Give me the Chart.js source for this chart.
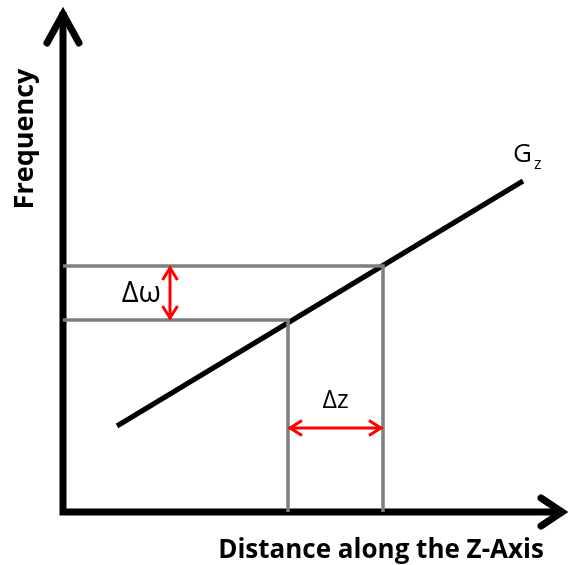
<!DOCTYPE html>
<html>
<head>
<meta charset="utf-8">
<script src="https://cdn.jsdelivr.net/npm/chart.js@4/dist/chart.umd.min.js"></script>
<style>
  html, body { margin: 0; padding: 0; background: #ffffff; }
  #wrap { width: 568px; height: 565px; }
</style>
</head>
<body>
<div id="wrap"><canvas id="c" width="568" height="565"></canvas></div>
<script>
// Gradient line G_z: frequency rises linearly with position along z
const gzX = [1.08, 9.2];
const gzY = [1.72, 6.62];
// Two frequency levels (lower, upper) and the matching z positions
const freqLevels = [3.84, 4.92];
const zPositions = [4.5, 6.4];
// Axis extent in data units
const axisRange = [0, 10];
// Where the difference markers sit
const deltaOmegaX = 2.14;
const deltaZY = 1.68;
// Text
const xTitle = 'Distance along the Z-Axis';
const yTitle = 'Frequency';
const gradientLabel = ['G', 'z'];
const deltaOmegaLabel = 'Δω';
const deltaZLabel = 'Δz';

const GRAY = '#7f7f7f';
const RED = '#ff0000';
const BLACK = '#000000';
const FONT = '"Open Sans", Lato, sans-serif';

function pts(xs, ys) { return xs.map((x, i) => ({ x: x, y: ys[i] })); }

function lineSet(data, color, width) {
  return {
    data: data, showLine: true, pointRadius: 0, borderColor: color,
    borderWidth: width, clip: false, fill: false, tension: 0,
    borderJoinStyle: 'miter', borderCapStyle: 'butt'
  };
}

const datasets = [
  // upper level: horizontal to the line, then down to the z axis
  lineSet(pts([axisRange[0], zPositions[1], zPositions[1]], [freqLevels[1], freqLevels[1], axisRange[0]]), GRAY, 3.5),
  // lower level
  lineSet(pts([axisRange[0], zPositions[0], zPositions[0]], [freqLevels[0], freqLevels[0], axisRange[0]]), GRAY, 3.5),
  // axes
  lineSet(pts([axisRange[0], axisRange[0], axisRange[1]], [axisRange[1], axisRange[0], axisRange[0]]), BLACK, 7),
  // G_z
  lineSet(pts(gzX, gzY), BLACK, 5),
  // Δω shaft
  lineSet(pts([deltaOmegaX, deltaOmegaX], [freqLevels[0], freqLevels[1]]), RED, 3),
  // Δz shaft
  lineSet(pts([zPositions[0], zPositions[1]], [deltaZY, deltaZY]), RED, 3)
];

function chevron(ctx, tipX, tipY, ax, ay, bx, by, color, width, cap) {
  ctx.save();
  ctx.strokeStyle = color;
  ctx.lineWidth = width;
  ctx.lineCap = cap;
  ctx.lineJoin = 'miter';
  ctx.beginPath();
  ctx.moveTo(tipX + ax, tipY + ay);
  ctx.lineTo(tipX, tipY);
  ctx.lineTo(tipX + bx, tipY + by);
  ctx.stroke();
  ctx.restore();
}

const decorations = {
  id: 'decorations',
  afterDatasetsDraw(chart) {
    const ctx = chart.ctx;
    const xs = chart.scales.x, ys = chart.scales.y;
    const px = v => xs.getPixelForValue(v);
    const py = v => ys.getPixelForValue(v);

    // axis arrowheads
    chevron(ctx, px(axisRange[0]), py(axisRange[1]) + 2, -16, 29, 16, 29, BLACK, 7, 'round');
    chevron(ctx, px(axisRange[1]) - 1, py(axisRange[0]), -21, -14, -21, 14, BLACK, 7, 'round');

    // Δω arrowheads
    const oX = px(deltaOmegaX);
    const oTop = py(freqLevels[1]) + 2, oBot = py(freqLevels[0]) - 2;
    chevron(ctx, oX, oTop, -7.5, 12, 7.5, 12, RED, 3, 'butt');
    chevron(ctx, oX, oBot, -7.5, -12, 7.5, -12, RED, 3, 'butt');

    // Δz arrowheads
    const zY = py(deltaZY);
    const zL = px(zPositions[0]) + 2, zR = px(zPositions[1]) - 2;
    chevron(ctx, zL, zY, 12, -7.5, 12, 7.5, RED, 3, 'butt');
    chevron(ctx, zR, zY, -12, -7.5, -12, 7.5, RED, 3, 'butt');

    ctx.save();
    ctx.fillStyle = BLACK;
    ctx.textBaseline = 'alphabetic';

    // axis titles
    ctx.font = 'bold 26px ' + FONT;
    ctx.textAlign = 'center';
    ctx.fillText(xTitle, 381, 558);
    ctx.save();
    ctx.translate(33, 139);
    ctx.rotate(-Math.PI / 2);
    ctx.font = 'bold 27px ' + FONT;
    ctx.fillText(yTitle, 0, 0);
    ctx.restore();

    // G_z label next to the end of the line
    const gx = px(gzX[1]) - 10, gy = py(gzY[1]) - 19;
    ctx.textAlign = 'left';
    ctx.font = '26px ' + FONT;
    ctx.fillText(gradientLabel[0], gx, gy);
    const gw = ctx.measureText(gradientLabel[0]).width;
    ctx.font = '16px ' + FONT;
    ctx.fillText(gradientLabel[1], gx + gw + 2, gy + 7);

    // Δω label left of its arrow
    ctx.font = '29px ' + FONT;
    ctx.textAlign = 'right';
    ctx.fillText(deltaOmegaLabel, oX - 9, (oTop + oBot) / 2 + 9);

    // Δz label above its arrow
    ctx.font = '25px ' + FONT;
    ctx.textAlign = 'center';
    ctx.fillText(deltaZLabel, (zL + zR) / 2, zY - 20);
    ctx.restore();
  }
};

new Chart(document.getElementById('c'), {
  type: 'scatter',
  data: { datasets: datasets },
  options: {
    responsive: false,
    animation: false,
    events: [],
    layout: { padding: { left: 63, right: 5, top: 12, bottom: 53 } },
    scales: {
      x: { type: 'linear', min: axisRange[0], max: axisRange[1], display: false },
      y: { type: 'linear', min: axisRange[0], max: axisRange[1], display: false }
    },
    plugins: { legend: { display: false }, tooltip: { enabled: false }, title: { display: false } }
  },
  plugins: [decorations]
});
</script>
</body>
</html>
